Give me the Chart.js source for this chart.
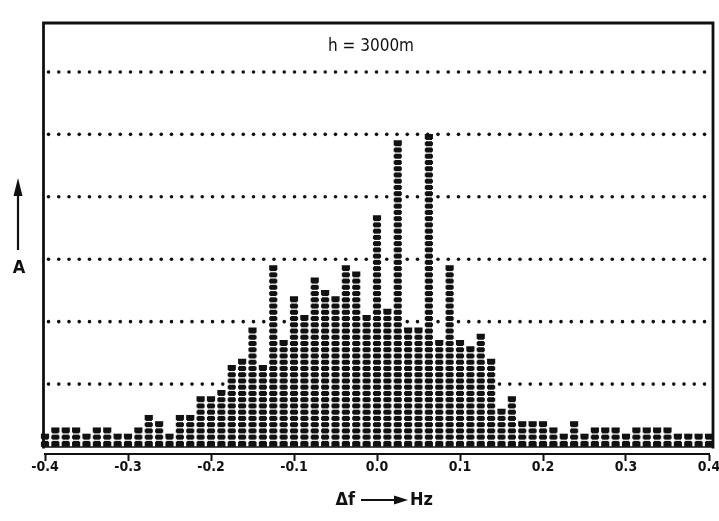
<!DOCTYPE html>
<html>
<head>
<meta charset="utf-8">
<title>h = 3000m</title>
<script src="https://cdn.jsdelivr.net/npm/chart.js@4/dist/chart.umd.min.js"></script>
<style>
  html, body { margin: 0; padding: 0; background: #fff; }
  canvas { display: block; }
</style>
</head>
<body>
<canvas id="spectrum" width="719" height="521"></canvas>
<script>
// frequency offset of each bin (Hz)
const freqBins = [
  -0.4, -0.3875, -0.375, -0.3625, -0.35, -0.3375, -0.325, -0.3125,
  -0.3, -0.2875, -0.275, -0.2625, -0.25, -0.2375, -0.225, -0.2125,
  -0.2, -0.1875, -0.175, -0.1625, -0.15, -0.1375, -0.125, -0.1125,
  -0.1, -0.0875, -0.075, -0.0625, -0.05, -0.0375, -0.025, -0.0125,
  0, 0.0125, 0.025, 0.0375, 0.05, 0.0625, 0.075, 0.0875,
  0.1, 0.1125, 0.125, 0.1375, 0.15, 0.1625, 0.175, 0.1875,
  0.2, 0.2125, 0.225, 0.2375, 0.25, 0.2625, 0.275, 0.2875,
  0.3, 0.3125, 0.325, 0.3375, 0.35, 0.3625, 0.375, 0.3875, 0.4
];

// amplitude per bin, in printer cells
const amplitude = [
  2, 3, 3, 3, 2, 3, 3, 2,
  2, 3, 5, 4, 2, 5, 5, 8,
  8, 9, 13, 14, 19, 13, 29, 17,
  24, 21, 27, 25, 24, 29, 28, 21,
  37, 22, 49, 19, 19, 50, 17, 29,
  17, 16, 18, 14, 6, 8, 4, 4,
  4, 3, 2, 4, 2, 3, 3, 3,
  2, 3, 3, 3, 3, 2, 2, 2, 2
];

// dotted reference levels
const gridLevels = [10, 20, 30, 40, 50, 60];

const heightLabel = 'h = 3000m';
const INK = '#111';
const FONT = '"DejaVu Sans Condensed", "Liberation Sans Narrow", "DejaVu Sans", sans-serif';

Chart.defaults.font.family = FONT;
Chart.defaults.color = INK;

const spectrumDecor = {
  id: 'spectrumDecor',
  beforeDatasetsDraw(chart) {
    const { ctx, chartArea: area, scales: { y } } = chart;
    ctx.save();
    ctx.fillStyle = INK;
    for (const level of gridLevels) {
      const py = y.getPixelForValue(level);
      for (let px = area.left + 3.5; px <= area.right + 1; px += 10.25) {
        ctx.beginPath();
        ctx.arc(px, py, 1.8, 0, Math.PI * 2);
        ctx.fill();
      }
    }
    ctx.restore();
  },
  afterDatasetsDraw(chart) {
    const { ctx, chartArea: area, scales: { y } } = chart;
    const meta = chart.getDatasetMeta(0);
    const base = y.getPixelForValue(0);

    ctx.save();
    // split every column into stacked cells
    ctx.fillStyle = '#fff';
    meta.data.forEach((bar, i) => {
      const { x, width } = bar.getProps(['x', 'width'], true);
      for (let k = 1; k < amplitude[i]; k++) {
        const py = y.getPixelForValue(k);
        ctx.fillRect(x - width / 2 - 1, py - 0.6, width + 2, 1.2);
        ctx.fillRect(x - width / 2 - 1, py - 1.5, 1.6, 3);
        ctx.fillRect(x + width / 2 - 0.6, py - 1.5, 1.6, 3);
      }
    });

    // frame
    ctx.strokeStyle = INK;
    ctx.lineWidth = 2.8;
    const left = area.left - 1.5;
    const right = area.right + 4;
    const top = area.top + 1;
    ctx.beginPath();
    ctx.moveTo(left, base + 2);
    ctx.lineTo(left, top);
    ctx.lineTo(right, top);
    ctx.lineTo(right, base + 2);
    ctx.stroke();
    ctx.lineWidth = 1.5;
    ctx.beginPath();
    ctx.moveTo(left, base + 0.5);
    ctx.lineTo(right, base + 0.5);
    ctx.stroke();

    // height label
    ctx.fillStyle = INK;
    ctx.textAlign = 'center';
    ctx.textBaseline = 'middle';
    ctx.font = '17px ' + FONT;
    ctx.fillText(heightLabel, 371, 47);

    // amplitude axis: arrow and "A"
    ctx.lineWidth = 2.2;
    ctx.beginPath();
    ctx.moveTo(18, 250);
    ctx.lineTo(18, 190);
    ctx.stroke();
    ctx.beginPath();
    ctx.moveTo(18, 178);
    ctx.lineTo(22.5, 196);
    ctx.lineTo(13.5, 196);
    ctx.closePath();
    ctx.fill();
    ctx.font = 'bold 18px ' + FONT;
    ctx.fillText('A', 19, 268);

    // frequency axis title: "Δf ──► Hz"
    const ty = 500;
    ctx.textAlign = 'right';
    ctx.fillText('Δf', 355, ty);
    ctx.beginPath();
    ctx.moveTo(361, ty);
    ctx.lineTo(396, ty);
    ctx.stroke();
    ctx.beginPath();
    ctx.moveTo(408, ty);
    ctx.lineTo(394, ty - 4.5);
    ctx.lineTo(394, ty + 4.5);
    ctx.closePath();
    ctx.fill();
    ctx.textAlign = 'left';
    ctx.fillText('Hz', 410, ty);
    ctx.restore();
  }
};

new Chart(document.getElementById('spectrum'), {
  type: 'bar',
  data: {
    datasets: [{
      data: freqBins.map((f, i) => ({ x: f, y: amplitude[i] })),
      backgroundColor: INK,
      borderWidth: 0,
      barThickness: 7.5,
      clip: false
    }]
  },
  options: {
    responsive: false,
    animation: false,
    devicePixelRatio: 1,
    layout: { padding: { left: 45, right: 10, top: 22, bottom: 0 } },
    plugins: { legend: { display: false }, tooltip: { enabled: false } },
    scales: {
      x: {
        type: 'linear',
        min: -0.4,
        max: 0.4,
        offset: false,
        afterFit(scale) { scale.height = 67; },
        grid: {
          offset: false,
          drawOnChartArea: false,
          drawTicks: true,
          tickLength: 7,
          tickWidth: 2,
          tickColor: INK
        },
        border: { display: true, color: INK, width: 2 },
        ticks: {
          stepSize: 0.1,
          padding: -2,
          color: INK,
          font: { size: 14, weight: 'bold' },
          maxRotation: 0,
          callback: (v) => (Math.abs(v) < 1e-9 ? '0.0' : v.toFixed(1))
        }
      },
      y: {
        display: false,
        min: -1.2,
        max: 68
      }
    }
  },
  plugins: [spectrumDecor]
});
</script>
</body>
</html>
